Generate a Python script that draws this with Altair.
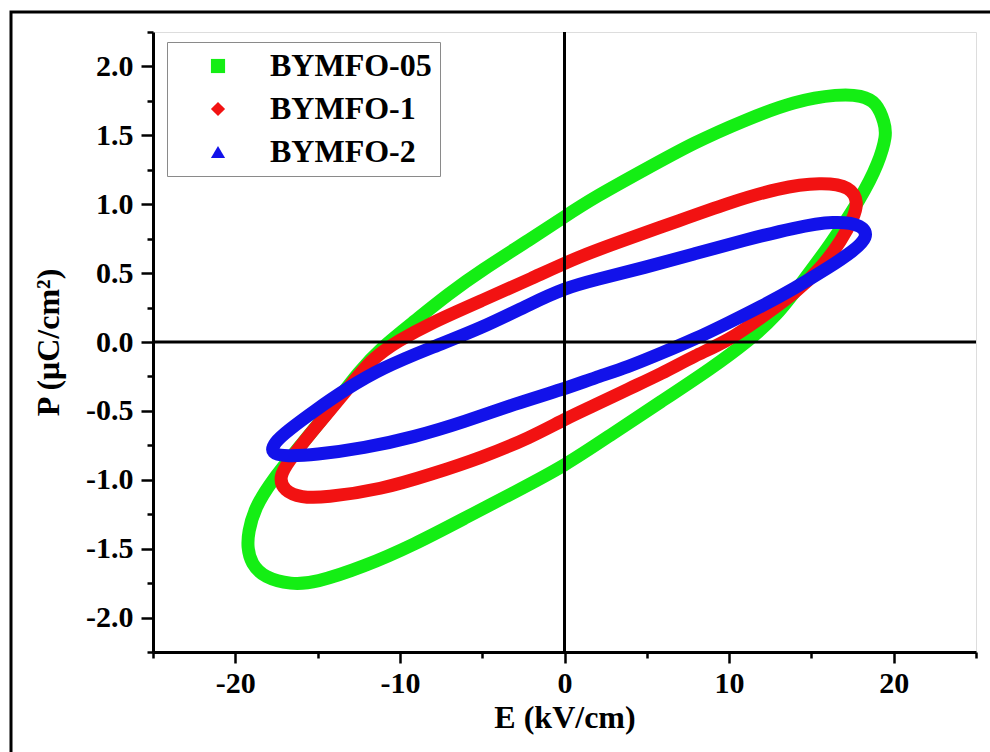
import altair as alt
import pandas as pd

# ---- series definitions ----
series_names = ["BYMFO-05", "BYMFO-1", "BYMFO-2"]
series_colors = ["#14ee14", "#f21212", "#1212ea"]
series_shapes = ["square", "diamond", "triangle-up"]

# ---- loop traces (E in kV/cm, P in uC/cm^2) ----
e_05 = [19.45, 18.97, 18.05, 16.66, 13.98, 10.94, 7.90, 4.86, 1.82, 0.0, -2.01, -5.05,
        -7.05, -9.12, -11.12, -12.46, -14.16, -16.17, -17.81, -18.84, -19.21, -19.27,
        -19.03, -18.24, -16.60, -15.20, -12.16, -9.12, -6.08, -3.04, 0.0, 2.86, 5.90,
        8.94, 11.19, 12.89, 14.41, 16.05, 18.05, 19.09, 19.57]
p_05 = [1.59, 1.74, 1.79, 1.80, 1.75, 1.61, 1.45, 1.25, 1.05, 0.91, 0.75, 0.52,
        0.35, 0.15, -0.04, -0.21, -0.48, -0.77, -1.01, -1.21, -1.38, -1.49,
        -1.61, -1.71, -1.76, -1.75, -1.63, -1.47, -1.28, -1.09, -0.90, -0.67, -0.43,
        -0.19, 0.01, 0.19, 0.43, 0.69, 1.05, 1.30, 1.50]

e_1 = [17.85, 17.40, 15.62, 13.01, 9.97, 6.93, 3.89, 0.85, -2.01, -5.05, -8.09, -10.09,
       -11.73, -13.56, -15.56, -16.78, -17.35, -17.05, -15.99, -14.59, -11.12, -8.09,
       -5.05, -2.01, 0.0, 1.82, 3.89, 5.90, 7.90, 9.97, 11.98, 13.98, 15.62, 16.84, 17.55]
p_1 = [1.01, 1.13, 1.16, 1.12, 1.01, 0.88, 0.75, 0.62, 0.46, 0.30, 0.14, 0.01,
       -0.12, -0.40, -0.68, -0.87, -0.98, -1.08, -1.13, -1.13, -1.07, -0.96,
       -0.84, -0.69, -0.56, -0.46, -0.34, -0.23, -0.10, 0.01, 0.18, 0.35, 0.54, 0.74, 0.90]

e_2 = [18.45, 18.15, 16.41, 13.98, 10.94, 7.90, 4.86, 1.82, 0.0, -2.01, -5.05, -8.09,
       -11.12, -13.25, -15.20, -16.78, -17.65, -17.85, -16.90, -15.20, -12.16, -9.12,
       -6.08, -3.04, 0.0, 1.82, 3.89, 5.90, 7.90, 9.97, 11.98, 13.98, 16.05, 17.55]
p_2 = [0.76, 0.85, 0.88, 0.83, 0.74, 0.64, 0.54, 0.45, 0.39, 0.28, 0.10, -0.04,
       -0.19, -0.34, -0.50, -0.64, -0.73, -0.81, -0.83, -0.82, -0.77, -0.69,
       -0.58, -0.45, -0.34, -0.26, -0.18, -0.08, 0.02, 0.14, 0.26, 0.39, 0.54, 0.66]

x_major_ticks = [-20, -10, 0, 10, 20]
x_minor_ticks = [-25, -15, -5, 5, 15, 25]
y_major_ticks = [-2.0, -1.5, -1.0, -0.5, 0.0, 0.5, 1.0, 1.5, 2.0]
y_minor_ticks = [-2.25, -1.75, -1.25, -0.75, -0.25, 0.25, 0.75, 1.25, 1.75, 2.25]

rows = []
for name, col, es, ps in zip(series_names, series_colors, [e_05, e_1, e_2], [p_05, p_1, p_2]):
    for i, (e, p) in enumerate(zip(es, ps)):
        rows.append({"series": name, "hex": col, "i": i, "E": e, "P": p})
df = pd.DataFrame(rows)
one = pd.DataFrame({"k": [0]})

FONT = "Liberation Serif"
xscale = alt.Scale(domain=[-25, 25], nice=False, zero=False)
yscale = alt.Scale(domain=[-2.25, 2.25], nice=False, zero=False)

common_axis = dict(tickColor="black", tickWidth=2.5, domainColor="black", domainWidth=3,
                   grid=False, labelFont=FONT, labelFontWeight="bold", labelFontSize=30,
                   labelColor="black", titleFont=FONT, titleFontWeight="bold",
                   titleFontSize=32, titleColor="black", labelFlush=False, labelOverlap=False)

x_major = alt.Axis(orient="bottom", values=x_major_ticks, tickSize=11, labelPadding=5,
                   labelExpr="(datum.value < 0 ? '-' : '') + format(abs(datum.value), 'd')",
                   title="E (kV/cm)", titlePadding=4, **common_axis)
y_major = alt.Axis(orient="left", values=y_major_ticks, tickSize=12, labelPadding=8,
                   labelExpr="(datum.value < 0 ? '-' : '') + format(abs(datum.value), '.1f')",
                   title="P (μC/cm²)", titlePadding=20, **common_axis)
x_minor = alt.Axis(orient="bottom", values=x_minor_ticks, tickSize=6, tickWidth=2.5,
                   tickColor="black", domain=False, labels=False, grid=False, title=None)
y_minor = alt.Axis(orient="left", values=y_minor_ticks, tickSize=6, tickWidth=2.5,
                   tickColor="black", domain=False, labels=False, grid=False, title=None)

legend = alt.Legend(title=None, orient="none", legendX=14, legendY=10, padding=8,
                    symbolOffset=27, labelOffset=36, symbolSize=200, symbolStrokeWidth=0,
                    labelFont=FONT, labelFontWeight="bold", labelFontSize=32,
                    labelLimit=400, labelColor="black", rowPadding=11,
                    strokeColor="#8a8a8a", fillColor="white")

frame = alt.Chart(one).mark_rect(fillOpacity=0, stroke="black", strokeWidth=3).encode(
    x=alt.value(-142), x2=alt.value(850), y=alt.value(-20), y2=alt.value(740)
)

lines = alt.Chart(df).mark_line(strokeWidth=13, interpolate="basis-closed",
                                strokeJoin="round", strokeCap="round").encode(
    x=alt.X("E:Q", scale=xscale, axis=x_major),
    y=alt.Y("P:Q", scale=yscale, axis=y_major),
    stroke=alt.Stroke("hex:N", scale=None),
    detail="series:N",
    order="i:Q",
)

legend_pts = alt.Chart(df).mark_point(filled=True, opacity=1).encode(
    x=alt.X("E:Q", axis=None),
    y=alt.Y("P:Q", axis=None),
    color=alt.Color("series:N", scale=alt.Scale(domain=series_names, range=series_colors),
                    legend=legend),
    shape=alt.Shape("series:N", scale=alt.Scale(domain=series_names, range=series_shapes),
                    legend=legend),
).transform_filter("datum.E > 1000")

vrule = alt.Chart(one).mark_rule(color="black", strokeWidth=3).encode(
    x=alt.XDatum(0, type="quantitative", axis=x_minor)
)
hrule = alt.Chart(one).mark_rule(color="black", strokeWidth=3).encode(
    y=alt.YDatum(0, type="quantitative", axis=y_minor)
)

chart = (
    alt.layer(frame, lines, legend_pts, vrule, hrule)
    .resolve_axis(x="independent", y="independent")
    .properties(width=823, height=620,
                padding={"left": 153, "top": 32, "right": 14, "bottom": 100},
                autosize=alt.AutoSizeParams(type="none"))
    .configure_view(stroke="black", strokeWidth=3)
    .configure(background="white")
)

chart.save("out.html", embed_options={"renderer": "svg", "actions": False})
